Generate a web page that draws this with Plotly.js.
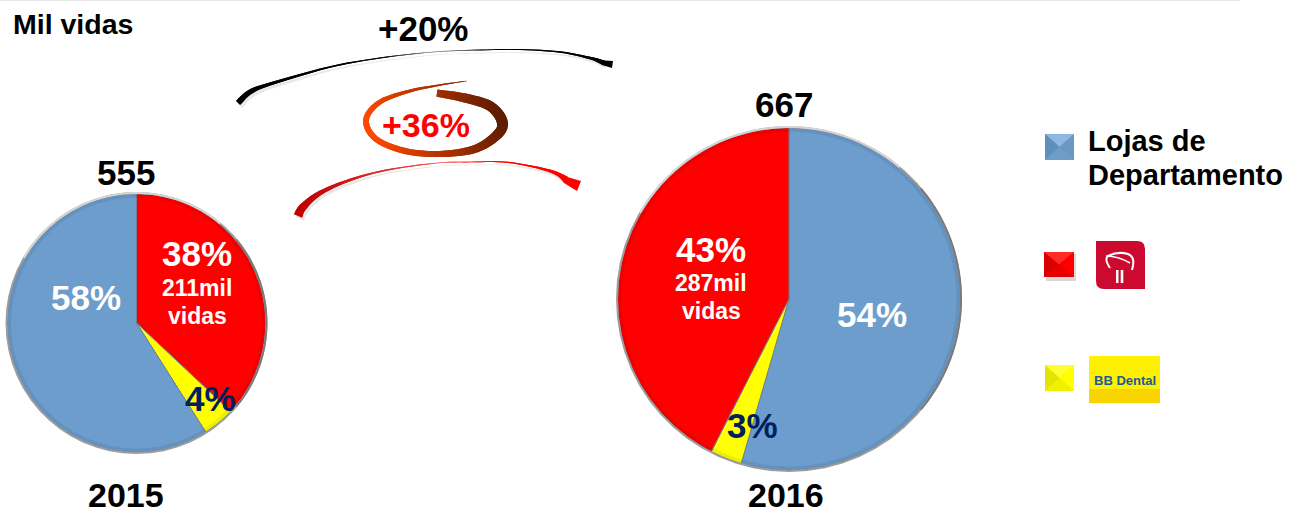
<!DOCTYPE html>
<html><head><meta charset="utf-8">
<script src="https://cdn.plot.ly/plotly-3.0.1.min.js"></script>
<style>html,body{margin:0;padding:0;background:#fff}#c{width:1300px;height:513px}</style></head>
<body><div id="c"></div>
<script>
// ---- data ----
const categories2015 = ['Bradesco', 'BB Dental', 'Lojas de Departamento'];
// slice sizes as drawn in the picture; the printed percentages are kept apart
const values2015 = [37, 4, 59];
const printed2015 = [38, 4, 58];
const categories2016 = ['Lojas de Departamento', 'BB Dental', 'Bradesco'];
const values2016 = [54.5, 3, 42.5];
const printed2016 = [54, 3, 43];
const total2015 = 555, total2016 = 667;
const vidas2015 = 211, vidas2016 = 287;
const growthTotal = '+20%', growthBradesco = '+36%';
const colorBy = {'Lojas de Departamento':'#6c9dcc','Bradesco':'#ff0000','BB Dental':'#ffff00'};

// ---- helpers (page pixels -> paper fractions) ----
const W = 1300, H = 513;
const fx = x => x / W, fy = y => 1 - y / H;
const P = (x, y) => fx(x).toFixed(6) + ',' + fy(y).toFixed(6);
const poly = pts => 'M' + pts.map(p => P(p[0], p[1])).join('L') + 'Z';
const shapes = [], notes = [];
function fillPoly(pts, color, opacity, stroke = 0) {
  shapes.push({type:'path', xref:'paper', yref:'paper', path:poly(pts), fillcolor:color,
    opacity:opacity === undefined ? 1 : opacity, line:{width:stroke, color:color}, layer:'above'});
}
function strokePath(d, color, width) {
  shapes.push({type:'path', xref:'paper', yref:'paper', path:d, line:{color:color, width:width}, layer:'above'});
}
function label(x, y, text, size, color, anchor) {
  notes.push({xref:'paper', yref:'paper', x:fx(x), y:fy(y), text:text, showarrow:false,
    xanchor:anchor || 'center', yanchor:'middle',
    font:{family:'"Liberation Sans", Arial, sans-serif', size:size, color:color}});
}
const hex = c => [1,3,5].map(i => parseInt(c.substr(i,2),16));
const mix = (a, b, t) => { const A = hex(a), B = hex(b);
  return 'rgb(' + A.map((v,i) => Math.round(v + (B[i]-v)*t)).join(',') + ')'; };

// smooth tapered ribbon through guide points, split in overlapping coloured pieces
function ribbon(guide, colorFn, dx = 0, dy = 0, shadow = 0) {
  const samples = [];
  const n = guide.length, steps = 6;
  for (let i = 0; i < n - 1; i++) {
    const p0 = guide[Math.max(i-1,0)], p1 = guide[i], p2 = guide[i+1], p3 = guide[Math.min(i+2,n-1)];
    for (let k = 0; k < steps; k++) {
      const t = k/steps, t2 = t*t, t3 = t2*t;
      const cr = j => 0.5*(2*p1[j] + (p2[j]-p0[j])*t + (2*p0[j]-5*p1[j]+4*p2[j]-p3[j])*t2 + (3*p1[j]-p0[j]-3*p2[j]+p3[j])*t3);
      samples.push([cr(0), cr(1), p1[2] + (p2[2]-p1[2])*t]);
    }
  }
  samples.push(guide[n-1]);
  const L = [], R = [];
  samples.forEach((s, i) => {
    const a = samples[Math.max(i-2,0)], b = samples[Math.min(i+2,samples.length-1)];
    let tx = b[0]-a[0], ty = b[1]-a[1]; const m = Math.hypot(tx,ty) || 1; tx/=m; ty/=m;
    L.push([s[0]-ty*s[2]/2+dx, s[1]+tx*s[2]/2+dy]);
    R.push([s[0]+ty*s[2]/2+dx, s[1]-tx*s[2]/2+dy]);
  });
  if (shadow) { fillPoly(L.concat(R.slice().reverse()), '#808080', shadow); return; }
  const last = samples.length - 1;
  for (let i = last - 1; i >= 0; i--) {
    const j = Math.min(i + 2, last);
    const mids = [];
    for (let k = i; k <= j; k++) mids.push(L[k]);
    for (let k = j; k >= i; k--) mids.push(R[k]);
    fillPoly(mids, colorFn(samples[i][0]));
  }
}

// ---- pies ----
const left = {cx:136.5, cy:323, r:129.5}, right = {cx:789, cy:299, r:171.5};
const dom = g => ({x:[fx(g.cx-g.r), fx(g.cx+g.r)], y:[fy(g.cy+g.r), fy(g.cy-g.r)]});
const pie = (labels, values, g, name) => ({type:'pie', name:name, labels:labels, values:values, sort:false,
  direction:'clockwise', rotation:0, domain:dom(g), textinfo:'none', hoverinfo:'label+percent',
  marker:{colors:labels.map(l => colorBy[l]), line:{color:'#6f7f8e', width:1}}});

function rim(g) {
  const arc = (a0, a1, rr, color, w) => {
    const pts = [];
    for (let i = 0; i <= 60; i++) { const a = (a0 + (a1-a0)*i/60)*Math.PI/180;
      pts.push(P(g.cx+rr*Math.sin(a), g.cy-rr*Math.cos(a))); }
    strokePath('M' + pts.join('L'), color, w);
  };
  arc(0, 360, g.r-2, 'rgba(0,0,0,0.07)', 4);
  arc(0, 360, g.r+0.5, '#9c9c9c', 2);
  arc(300, 400, g.r+0.5, '#d4d4d4', 2);
  arc(50, 130, g.r+0.5, '#7a7a7a', 2);
}
rim(left); rim(right);

// ---- top hairline ----
shapes.push({type:'line', xref:'paper', yref:'paper', x0:0, x1:fx(1240), y0:fy(0.5), y1:fy(0.5),
  line:{color:'#e8e8e8', width:1}, layer:'below'});

// ---- growth arrows ----
const blackGuide = [[238,103,6],[250,92,5],[270,84,3],[330,67,1.6],[380,58,1],[433,52,0.6],[480,50,0.8],[520,49.5,1],[560,52,1.4],[590,58,2.5],[604,63,5]];
const redGuide = [[298,216,9],[303,207,7.5],[320,193,4.5],[350,180,2.5],[387,170,1.3],[437,163,0.6],[470,162,0.7],[503,162,1],[530,166,1.6],[553,172,3],[566,179,6]];
ribbon(blackGuide, null, 2, 3, 0.18);
ribbon(redGuide, null, 2, 3, 0.18);
ribbon(blackGuide, x => mix('#000000', '#9a9a9a', Math.max(0, 1 - Math.abs(x-430)/60)));
fillPoly([[597,60],[613,61],[612,68],[602,65]], '#000000');
ribbon(redGuide, x => x < 437 ? mix('#c00000', '#ff5050', (x-298)/139) : mix('#ff5050', '#ff0000', Math.min(1,(x-437)/40)));
fillPoly([[557,174],[581,181],[577,191],[564,183]], '#ff0000');

// ---- swoosh around +36% ----
const swoosh = [[467,81,0.4],[440,85,1.5],[410,91,3],[380,102,5],[366,120,6],[376,139,6],[405,151,6],[440,154,6],[475,149,8],[498,134,10],[502,121,11],[490,106,10],[465,98,9],[437,93,7]];
ribbon(swoosh, x => mix('#ff4800', '#5e1c00', Math.min(1, Math.max(0,(x-368)/135))));

// ---- legend swatches ----
function swatch(x0, y0, x1, y1, top, leftC, rightC, bottom, mid) {
  fillPoly([[x0,y0],[x1,y0],[x1,y1],[x0,y1]], mid);
  const cx = (x0+x1)/2, cy = (y0+y1)/2;
  fillPoly([[x0,y0],[x1,y0],[cx,cy]], top);
  fillPoly([[x0,y0],[cx,cy],[x0,y1]], leftC);
  fillPoly([[x1,y0],[cx,cy],[x1,y1]], rightC);
  fillPoly([[x0,y1],[x1,y1],[cx,cy]], bottom);
}
fillPoly([[1046,254],[1076,254],[1076,281],[1046,281]], '#808080', 0.3);
swatch(1045,134,1074,160,'#8fb8e0','#5f8fbc','#6a98c4','#6f9cc8','#6c9ac6');
swatch(1044,252,1074,277,'#ff2a2a','#d80000','#ff0000','#e80000','#f00000');
swatch(1045,365,1074,391,'#ffff30','#e4e400','#ffff00','#f0f000','#f5f500');

// ---- Bradesco mark ----
const bx0 = 1096, bx1 = 1145, by0 = 241, by1 = 289;
shapes.push({type:'path', xref:'paper', yref:'paper', layer:'above', fillcolor:'#cc0a30', line:{width:0},
  path:'M'+P(bx0,by0)+'L'+P(bx1-8,by0)+'Q'+P(bx1,by0)+' '+P(bx1,by0+8)+'L'+P(bx1,by1)+'L'+P(bx0+8,by1)+'Q'+P(bx0,by1)+' '+P(bx0,by1-8)+'Z'});
strokePath('M'+P(1110,268)+'Q'+P(1104,259)+' '+P(1108,256)+'Q'+P(1118,251)+' '+P(1128,254)+'Q'+P(1136,257)+' '+P(1132,270), '#ffffff', 2);
strokePath('M'+P(1106,256)+'Q'+P(1118,256)+' '+P(1130,263), '#ffffff', 1.5);
fillPoly([[1116,270],[1118.5,270],[1118.5,283],[1116,283]], '#ffffff');
fillPoly([[1120.7,270],[1123.3,270],[1123.3,283],[1120.7,283]], '#ffffff');

// ---- BB Dental mark ----
fillPoly([[1089,356],[1160,356],[1160,392],[1089,392]], '#ffef00');
fillPoly([[1089,389],[1160,389],[1160,403],[1089,403]], '#f8d400');

// ---- texts ----
const pct = v => '<b>' + v + '%</b>';
const WHITE = '#ffffff', NAVY = '#002060', BLACK = '#000000';
label(11, 24, '<b>Mil vidas</b>', 28.5, BLACK, 'left');
label(424, 28, '<b>'+growthTotal+'</b>', 35, BLACK);
label(426, 125, '<b>'+growthBradesco+'</b>', 34, '#ff0000');
label(126, 172, '<b>'+total2015+'</b>', 35, BLACK);
label(784, 104, '<b>'+total2016+'</b>', 35, BLACK);
label(126, 494.5, '<b>2015</b>', 34, BLACK);
label(786, 494.5, '<b>2016</b>', 34, BLACK);
label(197, 253, pct(printed2015[0]), 35, WHITE);
label(197, 288, '<b>'+vidas2015+'mil</b>', 23, WHITE);
label(197, 316, '<b>vidas</b>', 23, WHITE);
label(86, 297, pct(printed2015[2]), 35, WHITE);
label(210, 398, pct(printed2015[1]), 35, NAVY);
label(711, 249, pct(printed2016[2]), 35, WHITE);
label(711, 283, '<b>'+vidas2016+'mil</b>', 23, WHITE);
label(711, 311, '<b>vidas</b>', 23, WHITE);
label(872, 314, pct(printed2016[0]), 35, WHITE);
label(752, 425, pct(printed2016[1]), 35, NAVY);
label(1086, 141, '<b>Lojas de</b>', 29, BLACK, 'left');
label(1086, 175, '<b>Departamento</b>', 29, BLACK, 'left');
label(1124.5, 380, '<b>BB Dental</b>', 13, '#1a5c9c');

Plotly.newPlot('c', [
  pie(categories2015, values2015, left, '2015'),
  pie(categories2016, values2016, right, '2016')
], {
  width:W, height:H, margin:{l:0,r:0,t:0,b:0}, showlegend:false,
  paper_bgcolor:'#ffffff', plot_bgcolor:'#ffffff',
  shapes:shapes, annotations:notes
}, {displayModeBar:false, staticPlot:true});
</script></body></html>
